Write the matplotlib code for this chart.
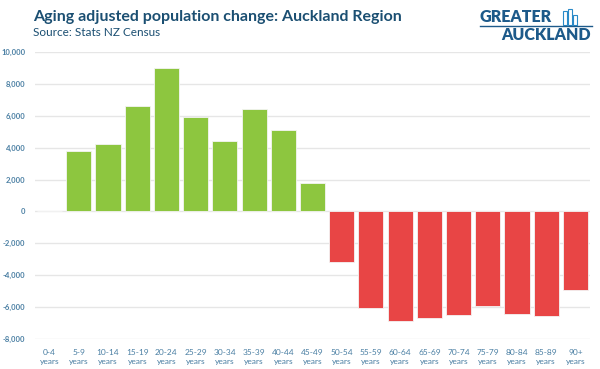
import matplotlib.pyplot as plt
from matplotlib.ticker import FuncFormatter

age_groups = ["0-4", "5-9", "10-14", "15-19", "20-24", "25-29", "30-34", "35-39",
              "40-44", "45-49", "50-54", "55-59", "60-64", "65-69", "70-74",
              "75-79", "80-84", "85-89", "90+"]
change = [0, 3800, 4200, 6600, 9000, 5900, 4400, 6400, 5100, 1800,
          -3200, -6080, -6870, -6710, -6500, -5960, -6460, -6540, -4930]

green = "#8dc63f"
red = "#e84545"
label_col = "#4a7fa3"
title_col = "#1b4f72"

plt.rcParams['font.family'] = ['Lato', 'DejaVu Sans']

fig = plt.figure(figsize=(6, 3.69), dpi=100)
ax = fig.add_axes([35/600, 30/369, 555/600, 287/369])

x = list(range(len(age_groups)))
colors = [green if v >= 0 else red for v in change]
ax.bar(x, change, width=0.86, color=colors, edgecolor="#f4f4f4", linewidth=0.6, zorder=3)

ax.set_xlim(-0.5, len(age_groups) - 0.5)
ax.set_ylim(-8000, 10000)
ax.set_yticks(range(-8000, 10001, 2000))
ax.yaxis.set_major_formatter(FuncFormatter(lambda v, p: f"{int(v):,}"))
ax.set_xticks(x)
ax.set_xticklabels([g + "\nyears" for g in age_groups], linespacing=1.35)
ax.grid(axis="y", color="#e6e6e6", linewidth=1, zorder=0)
for s in ax.spines.values():
    s.set_visible(False)
ax.tick_params(length=0, labelcolor=label_col)
ax.tick_params(axis="x", pad=7, labelsize=6)
ax.tick_params(axis="y", pad=7, labelsize=5.5)
for t in ax.get_yticklabels():
    t.set_fontweight("bold")

fig.text(33/600, 1 - 17/369, "Aging adjusted population change: Auckland Region",
         fontsize=11.5, fontweight="bold", color=title_col, va="center")
fig.text(33/600, 1 - 33/369, "Source: Stats NZ Census",
         fontsize=8.5, color=title_col, va="center")

# logo
fig.text(480/600, 1 - 17/369, "GREATER", fontsize=11.5, fontweight="heavy",
         color="#1d5a8a", va="center")
fig.text(591/600, 1 - 35/369, "AUCKLAND", fontsize=11.5, fontweight="heavy",
         color="#1d5a8a", va="center", ha="right")
fig.add_artist(plt.Line2D([480/600, 592/600], [1 - 26/369, 1 - 26/369],
                          color="#1d5a8a", linewidth=1))
for bx, bh in [(563, 14), (568, 16), (573, 10)]:
    fig.add_artist(plt.Rectangle((bx/600, 1 - 25/369), 4/600, bh/369,
                                 fill=False, edgecolor="#2a8ac8", linewidth=0.8))

fig.savefig("out.png", dpi=100)
